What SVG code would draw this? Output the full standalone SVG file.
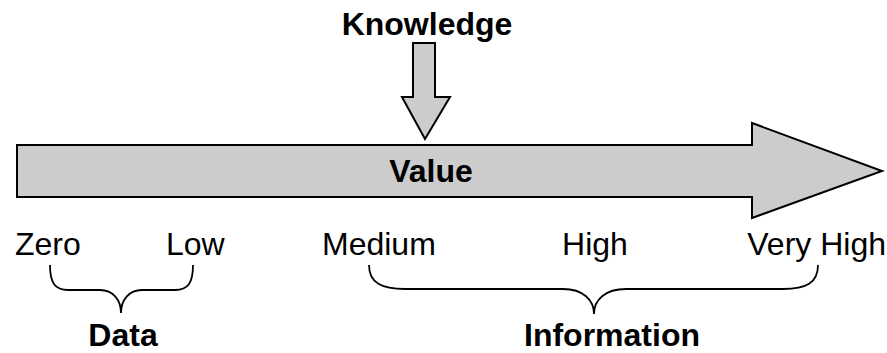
<svg xmlns="http://www.w3.org/2000/svg" width="887" height="353" viewBox="0 0 887 353">
<style>
.shape{fill:#cccccc;stroke:#000000;stroke-width:2;stroke-linejoin:miter}
.brace{fill:none;stroke:#000000;stroke-width:1.8}
.t{font-family:"Liberation Sans",Arial,sans-serif;font-size:32px;fill:#000000}
.b{font-weight:bold}
</style>
<rect width="887" height="353" fill="#ffffff"/>
<g id="value-arrow">
<polygon class="shape" points="17,145 752,145 752,123 882,171 752,218 752,197 17,197"/>
<text class="t b" x="431" y="182" text-anchor="middle">Value</text>
</g>
<g id="knowledge">
<text class="t b" x="427" y="35" text-anchor="middle">Knowledge</text>
</g>
<g id="connectors">
<polygon class="shape" points="413,43 435,43 435,97 450,97 425,139 402,97 413,97"/>
<path class="brace" d="M50,265 C50,283 55,290 68,290 L100,290 C113,290 121,300 121,313 C121,300 129,290 142,290 L175,290 C188,290 193,283 193,265"/>
<path class="brace" d="M369,265 C369,283 382,289 405,289 L563,289 C583,289 594,300 594,314 C594,300 605,289 626,289 L783,289 C806,289 818,283 818,265"/>
</g>
<g id="scale-labels">
<text class="t" x="15" y="255">Zero</text>
<text class="t" x="166" y="255">Low</text>
<text class="t" x="322" y="255">Medium</text>
<text class="t" x="595" y="255" text-anchor="middle">High</text>
<text class="t" x="886" y="255" text-anchor="end">Very High</text>
</g>
<g id="data">
<text class="t b" x="123" y="346" text-anchor="middle">Data</text>
</g>
<g id="information">
<text class="t b" x="612" y="346" text-anchor="middle">Information</text>
</g>
</svg>
